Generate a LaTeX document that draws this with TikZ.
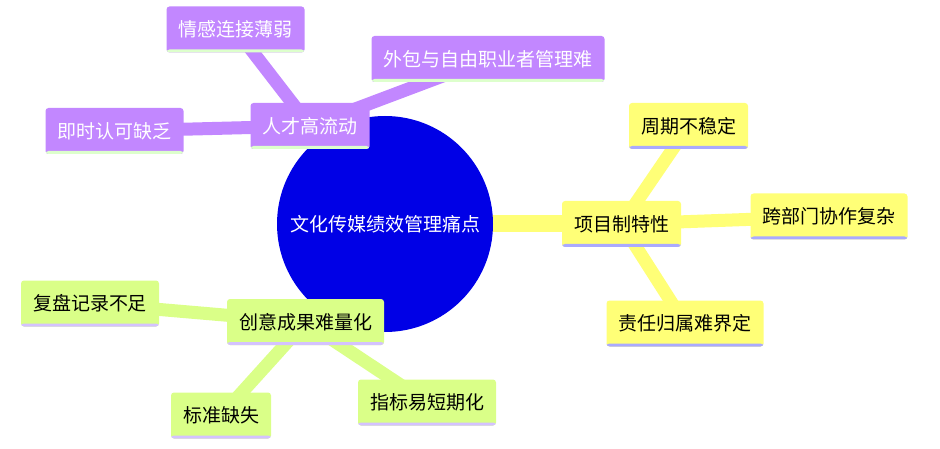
\documentclass[tikz,border=0pt]{standalone}
\usepackage{fontspec}
\setmainfont{Noto Sans CJK SC}
\usepackage{tikz}
\usetikzlibrary{backgrounds}
\definecolor{hubblue}{HTML}{0000E6}
\definecolor{talentpurple}{HTML}{C287FF}
\definecolor{talentstrip}{HTML}{DDFFCC}
\definecolor{projyellow}{HTML}{FFFF77}
\definecolor{projstrip}{HTML}{AAAAFF}
\definecolor{ideagreen}{HTML}{DAFF88}
\definecolor{ideastrip}{HTML}{D4C2FF}

\begin{document}
\begin{tikzpicture}[x=1pt,y=-1pt,
  topic/.style={rounded corners=3pt, minimum height=46pt, inner xsep=12pt, inner ysep=0pt,
    font=\fontsize{19}{19}\selectfont,
    path picture={\fill[#1] ([yshift=3pt]path picture bounding box.south west) rectangle (path picture bounding box.south east);}},
  talentbox/.style={topic=talentstrip, fill=talentpurple, text=white},
  projbox/.style={topic=projstrip, fill=projyellow, text=black},
  ideabox/.style={topic=ideastrip, fill=ideagreen, text=black},
  branch/.style={line width=13pt}]
\useasboundingbox (0,0) rectangle (940,449);
% centre
\node[circle, fill=hubblue, minimum size=216pt, inner sep=0pt, text=white,
  font=\fontsize{19}{19}\selectfont] (hub) at (385,224) {文化传媒绩效管理痛点};
% talent branch
\node[talentbox] (talent) at (310,126) {人才高流动};
\node[talentbox] (feel) at (235.5,29.5) {情感连接薄弱};
\node[talentbox] (instant) at (114.5,131) {即时认可缺乏};
\node[talentbox] (outsource) at (488,59) {外包与自由职业者管理难};
% project branch
\node[projbox] (project) at (621.5,224) {项目制特性};
\node[projbox] (cycle) at (688.5,126) {周期不稳定};
\node[projbox] (crossdept) at (829,216.5) {跨部门协作复杂};
\node[projbox] (duty) at (685,323.5) {责任归属难界定};
% creative branch
\node[ideabox] (creative) at (305.5,322) {创意成果难量化};
\node[ideabox] (review) at (90,303.5) {复盘记录不足};
\node[ideabox] (standard) at (221,415.5) {标准缺失};
\node[ideabox] (metric) at (427,402.5) {指标易短期化};
% connectors
\begin{pgfonlayer}{background}
\draw[talentpurple, line width=17pt] (hub.center)--(talent.center);
\draw[talentpurple, branch] (talent.center)--(feel.center);
\draw[talentpurple, branch] (talent.center)--(instant.center);
\draw[talentpurple, branch] (talent.center)--(outsource.center);
\draw[projyellow, line width=17pt] (hub.center)--(project.center);
\draw[projyellow, branch] (project.center)--(cycle.center);
\draw[projyellow, branch] (project.center)--(crossdept.center);
\draw[projyellow, branch] (project.center)--(duty.center);
\draw[ideagreen, line width=17pt] (hub.center)--(creative.center);
\draw[ideagreen, branch] (creative.center)--(review.center);
\draw[ideagreen, branch] (creative.center)--(standard.center);
\draw[ideagreen, branch] (creative.center)--(metric.center);
\end{pgfonlayer}
\end{tikzpicture}
\end{document}
